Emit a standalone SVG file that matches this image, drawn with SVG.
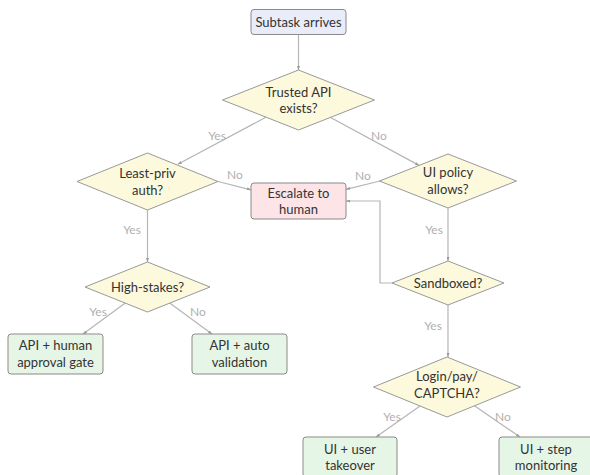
<svg xmlns="http://www.w3.org/2000/svg" width="590" height="475" viewBox="0 0 590 475">
<defs>
<marker id="arr" markerUnits="userSpaceOnUse" markerWidth="4" markerHeight="3" refX="4" refY="1.5" orient="auto">
<path d="M0,0 L4,1.5 L0,3 z" fill="#9a9a9a"/>
</marker>
<style>
.n text{font-family:Lato,"Liberation Sans",sans-serif;font-size:13px;fill:#333;text-anchor:middle}
.box{stroke:#8a8a8a;stroke-width:1}
.start{fill:#e9edf9}
.esc{fill:#fde4e7}
.res{fill:#e6f6e6}
.dec{fill:#fdf9dc;stroke:#999;stroke-width:1}
.c path{fill:none;stroke:#b5b5b5;stroke-width:1.2}
.c text{font-family:Lato,"Liberation Sans",sans-serif;font-size:12px;fill:#b0b0b0;text-anchor:middle}
</style>
</defs>
<rect width="590" height="475" fill="#fff"/>
<g id="connectors" class="c">
<path d="M298.5,34.5 V70" marker-end="url(#arr)"/>
<path d="M265.8,117.3 L177.8,164.3" marker-end="url(#arr)"/>
<path d="M330.1,117.3 L419.1,165.4" marker-end="url(#arr)"/>
<path d="M218,181.5 L251,189.8" marker-end="url(#arr)"/>
<path d="M380,181 L346,189.3" marker-end="url(#arr)"/>
<path d="M147.5,210 V262" marker-end="url(#arr)"/>
<path d="M448,208 V261" marker-end="url(#arr)"/>
<path d="M393,283 H380 V201 H346" marker-end="url(#arr)"/>
<path d="M448,305 V357" marker-end="url(#arr)"/>
<path d="M125.3,303.1 L83,334" marker-end="url(#arr)"/>
<path d="M169.7,303.1 L212,334" marker-end="url(#arr)"/>
<path d="M420,406 L376,437" marker-end="url(#arr)"/>
<path d="M474.4,405.8 L520,437" marker-end="url(#arr)"/>
<text x="217" y="140">Yes</text>
<text x="379" y="140">No</text>
<text x="235" y="179">No</text>
<text x="363" y="180">No</text>
<text x="132" y="234">Yes</text>
<text x="434" y="234">Yes</text>
<text x="98" y="316">Yes</text>
<text x="198" y="316">No</text>
<text x="433" y="330">Yes</text>
<text x="392" y="421">Yes</text>
<text x="503" y="421">No</text>
</g>
<g id="subtask" class="n">
<rect class="box start" x="251" y="9.5" width="95" height="25" rx="3"/>
<text x="298.5" y="26.5">Subtask arrives</text>
</g>
<g id="trusted" class="n">
<polygon class="dec" points="298.5,70 374.5,100 298.5,130 222.5,100"/>
<text x="298.5" y="96.5">Trusted API</text>
<text x="298.5" y="113">exists?</text>
</g>
<g id="leastpriv" class="n">
<polygon class="dec" points="147.5,153 218,181.5 147.5,210 77,181.5"/>
<text x="147.5" y="177.5">Least-priv</text>
<text x="147.5" y="194.5">auth?</text>
</g>
<g id="escalate" class="n">
<rect class="box esc" x="251" y="183" width="95" height="36" rx="3"/>
<text x="298.5" y="197.5">Escalate to</text>
<text x="298.5" y="214">human</text>
</g>
<g id="uipolicy" class="n">
<polygon class="dec" points="448,154 516.5,181 448,208 379.5,181"/>
<text x="448" y="177">UI policy</text>
<text x="448" y="194">allows?</text>
</g>
<g id="sandboxed" class="n">
<polygon class="dec" points="448,261 504,283 448,305 392,283"/>
<text x="448" y="287.5">Sandboxed?</text>
</g>
<g id="highstakes" class="n">
<polygon class="dec" points="147.5,262 210,287 147.5,312 85,287"/>
<text x="147.5" y="291.5">High-stakes?</text>
</g>
<g id="apihuman" class="n">
<rect class="box res" x="8" y="334" width="95" height="40" rx="3"/>
<text x="55.5" y="350">API + human</text>
<text x="55.5" y="366.5">approval gate</text>
</g>
<g id="apiauto" class="n">
<rect class="box res" x="192" y="334" width="95" height="40" rx="3"/>
<text x="239.5" y="350">API + auto</text>
<text x="239.5" y="366.5">validation</text>
</g>
<g id="login" class="n">
<polygon class="dec" points="447,357 520.5,387 447,417 373.5,387"/>
<text x="447" y="381">Login/pay/</text>
<text x="447" y="397.5">CAPTCHA?</text>
</g>
<g id="uitakeover" class="n">
<rect class="box res" x="303" y="437" width="94" height="40" rx="3"/>
<text x="350" y="453.5">UI + user</text>
<text x="350" y="470">takeover</text>
</g>
<g id="uistep" class="n">
<rect class="box res" x="499" y="437" width="94" height="40" rx="3"/>
<text x="546" y="453.5">UI + step</text>
<text x="546" y="470">monitoring</text>
</g>
</svg>
